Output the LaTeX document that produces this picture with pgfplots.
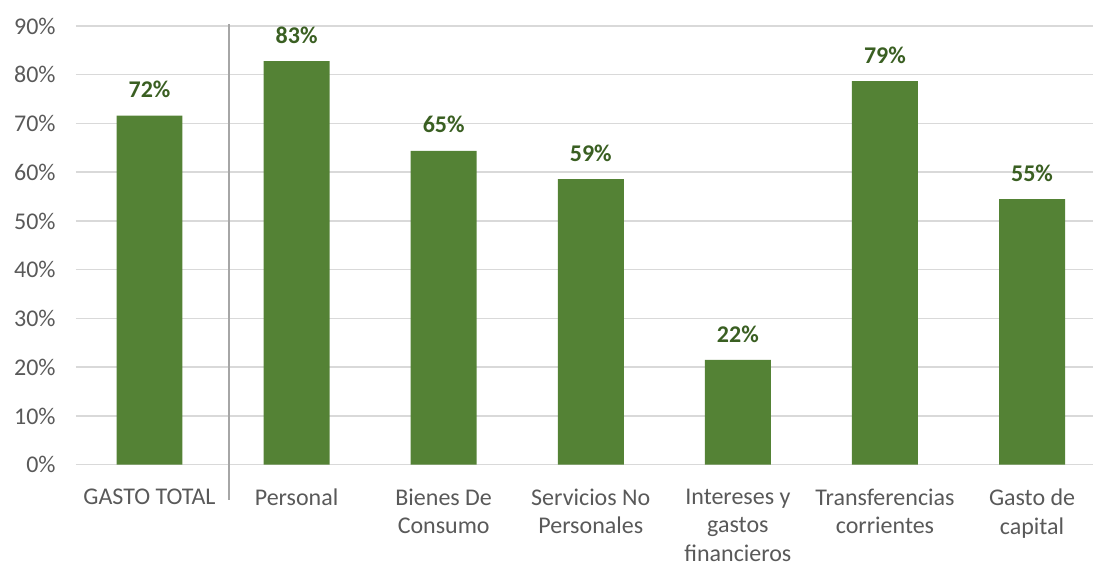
\documentclass[border=0pt,12pt]{standalone}
\usepackage{fontspec}
\setmainfont{Carlito}
\usepackage{pgfplots}
\pgfplotsset{compat=1.18}
\definecolor{barc}{HTML}{548235}
\definecolor{labc}{HTML}{3A5F22}
\definecolor{tickc}{HTML}{595959}
\definecolor{gridc}{HTML}{D9D9D9}
\definecolor{sepc}{HTML}{A6A6A6}
\begin{document}
\begin{tikzpicture}
\begin{axis}[
  scale only axis, width=509pt, height=219.5pt,
  xmin=-0.5, xmax=6.416, ymin=0, ymax=90,
  ytick={0,10,...,90},
  yticklabel={\pgfmathprintnumber{\tick}\%},
  xtick={0,...,6},
  xticklabels={GASTO TOTAL, Personal, {Bienes De\\Consumo}, {Servicios No\\Personales}, {Intereses y\\gastos\\financieros}, {Transferencias\\corrientes}, {Gasto de\\capital}},
  xticklabel style={align=center, yshift=-8pt},
  yticklabel style={xshift=-6pt},
  axis line style={draw=none},
  major tick length=0pt,
  ymajorgrids,
  grid style={draw=gridc, line width=0.75pt},
  tick label style={text=tickc, font=\fontsize{12}{14.2}\selectfont},
  /pgf/number format/assume math mode=true,
  clip=false,
]
\addplot[ybar, bar width=33pt, fill=barc, draw=none,
  point meta=explicit symbolic,
  nodes near coords={\pgfplotspointmeta\%},
  every node near coord/.append style={anchor=center, yshift=13pt, font=\fontsize{12}{14.5}\selectfont\bfseries, text=labc}]
  table[meta=l] {
x y l
0 71.6 72
1 82.8 83
2 64.4 65
3 58.6 59
4 21.5 22
5 78.7 79
6 54.5 55
};
\draw[sepc, line width=0.75pt] (axis cs:0.539,90.4) -- ([yshift=-17.5pt]axis cs:0.539,0);
\path (rel axis cs:0,0) ++(-38pt,-48.5pt);
\path (rel axis cs:1,1) ++(0pt,13pt);
\end{axis}
\end{tikzpicture}
\end{document}
